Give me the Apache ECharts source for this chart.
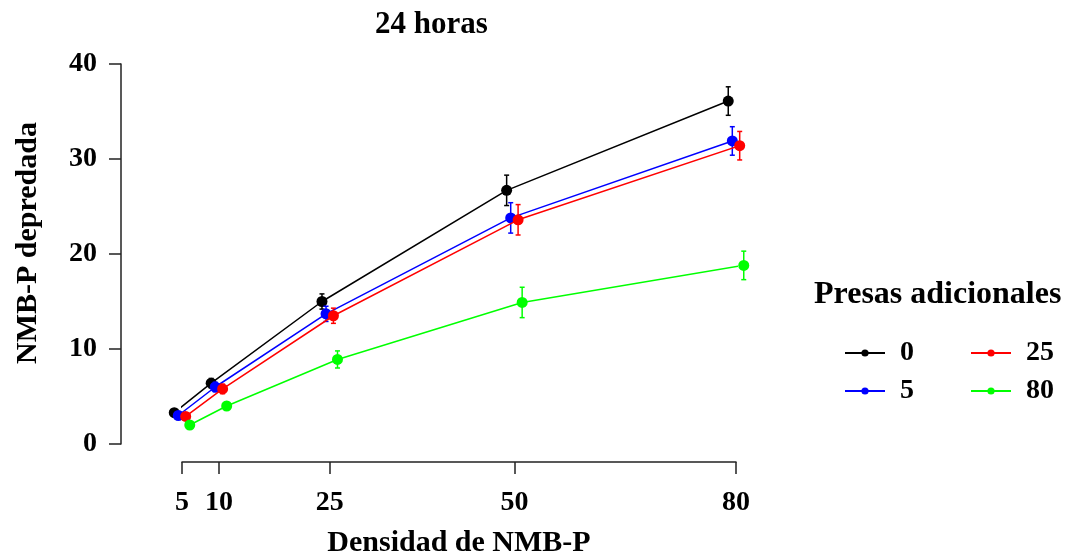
<!DOCTYPE html>
<html>
<head>
<meta charset="utf-8">
<script src="https://cdn.jsdelivr.net/npm/echarts@6/dist/echarts.min.js"></script>
<style>html,body{margin:0;padding:0;background:#fff}#c{width:1070px;height:557px}</style>
</head>
<body>
<div id="c"></div>
<script>
// ---- data ----
const densidad = [5, 10, 25, 50, 80];
const seriesNames = ['0', '5', '25', '80'];
const y0 = [3.3, 6.4, 15.0, 26.7, 36.1];
const y5 = [3.0, 6.0, 13.7, 23.8, 31.9];
const y25 = [2.9, 5.8, 13.5, 23.6, 31.4];
const y80 = [2.0, 4.0, 8.9, 14.9, 18.8];
const e0 = [0.4, 0.5, 0.8, 1.6, 1.5];
const e5 = [0.3, 0.5, 0.8, 1.6, 1.5];
const e25 = [0.3, 0.5, 0.8, 1.6, 1.5];
const e80 = [0.3, 0.4, 0.9, 1.6, 1.5];
const xTicks = [5, 10, 25, 50, 80];
const yTicks = [0, 10, 20, 30, 40];

// ---- styling ----
const colors = ['#000000', '#0000ff', '#ff0000', '#00ff00'];
const dodge = [-1.05, -0.5, 0.5, 1.05];
const FONT = 'Liberation Serif';
const values = [y0, y5, y25, y80];
const errors = [e0, e5, e25, e80];

const series = [];
seriesNames.forEach((nm, i) => {
  const pts = densidad.map((d, j) => [d + dodge[i], values[i][j]]);
  const errData = densidad.map((d, j) => [d + dodge[i], values[i][j] - errors[i][j], values[i][j] + errors[i][j]]);
  series.push({
    type: 'custom',
    name: 'err' + nm,
    clip: false,
    z: 2 + i * 2,
    encode: { x: 0, y: [1, 2] },
    data: errData,
    renderItem: (params, api) => {
      const x = api.value(0), lo = api.value(1), hi = api.value(2);
      const t = api.coord([x, hi]);
      const b = api.coord([x, lo]);
      const c = 2.5;
      const st = { stroke: colors[i], lineWidth: 1.5 };
      return {
        type: 'group',
        children: [
          { type: 'line', shape: { x1: t[0], y1: t[1], x2: b[0], y2: b[1] }, style: st },
          { type: 'line', shape: { x1: t[0] - c, y1: t[1], x2: t[0] + c, y2: t[1] }, style: st },
          { type: 'line', shape: { x1: b[0] - c, y1: b[1], x2: b[0] + c, y2: b[1] }, style: st }
        ]
      };
    }
  });
  series.push({
    type: 'line',
    name: nm,
    clip: false,
    z: 3 + i * 2,
    data: pts,
    symbol: 'circle',
    symbolSize: 11,
    color: colors[i],
    lineStyle: { color: colors[i], width: 1.5 },
    itemStyle: { color: colors[i] },
    emphasis: { disabled: true },
    animation: false
  });
});

const legendCommon = {
  orient: 'vertical',
  padding: 0,
  itemWidth: 40,
  itemHeight: 9,
  itemGap: 10,
  textStyle: { fontFamily: FONT, fontWeight: 'bold', fontSize: 28, color: '#000', padding: [0, 0, 0, 10], lineHeight: 28 },
  selectedMode: false
};

const chart = echarts.init(document.getElementById('c'));
chart.setOption({
  animation: false,
  backgroundColor: '#fff',
  title: [
    { text: '24 horas', left: 375, top: 9, padding: 0,
      textStyle: { fontFamily: FONT, fontWeight: 'bold', fontSize: 31, color: '#000' } },
    { text: 'Presas adicionales', left: 814, top: 279, padding: 0,
      textStyle: { fontFamily: FONT, fontWeight: 'bold', fontSize: 32, color: '#000' } }
  ],
  legend: [
    Object.assign({}, legendCommon, { data: seriesNames.slice(0, 2), left: 844, top: 339 }),
    Object.assign({}, legendCommon, { data: seriesNames.slice(2, 4), left: 970, top: 339 })
  ],
  grid: { left: 182, right: 334, top: 64, bottom: 113, containLabel: false, outerBoundsMode: 'none' },
  xAxis: {
    type: 'value',
    min: 5, max: 80,
    offset: 18,
    name: 'Densidad de NMB-P',
    nameLocation: 'middle',
    nameGap: 66,
    nameTextStyle: { fontFamily: FONT, fontWeight: 'bold', fontSize: 30, color: '#000' },
    axisLine: { show: true, onZero: false, lineStyle: { color: '#222', width: 1.5 } },
    axisTick: { show: true, length: 12, customValues: xTicks, lineStyle: { color: '#222', width: 1.5 } },
    axisLabel: { customValues: xTicks, margin: 27, fontFamily: FONT, fontWeight: 'bold', fontSize: 28, color: '#000' },
    splitLine: { show: false }
  },
  yAxis: {
    type: 'value',
    min: 0, max: 40, interval: 10,
    offset: 61,
    axisLine: { show: true, onZero: false, lineStyle: { color: '#222', width: 1.5 } },
    axisTick: { show: true, length: 12, lineStyle: { color: '#222', width: 1.5 } },
    axisLabel: { margin: 24, fontFamily: FONT, fontWeight: 'bold', fontSize: 28, color: '#000',
      formatter: v => (yTicks.indexOf(v) >= 0 ? String(v) : '') },
    splitLine: { show: false }
  },
  graphic: [
    { type: 'text', x: 28, y: 243, rotation: Math.PI / 2,
      style: { text: 'NMB-P depredada', fontFamily: FONT, fontWeight: 'bold', fontSize: 30, fill: '#000',
        textAlign: 'center', textVerticalAlign: 'middle' } }
  ],
  series: series
});
</script>
</body>
</html>
